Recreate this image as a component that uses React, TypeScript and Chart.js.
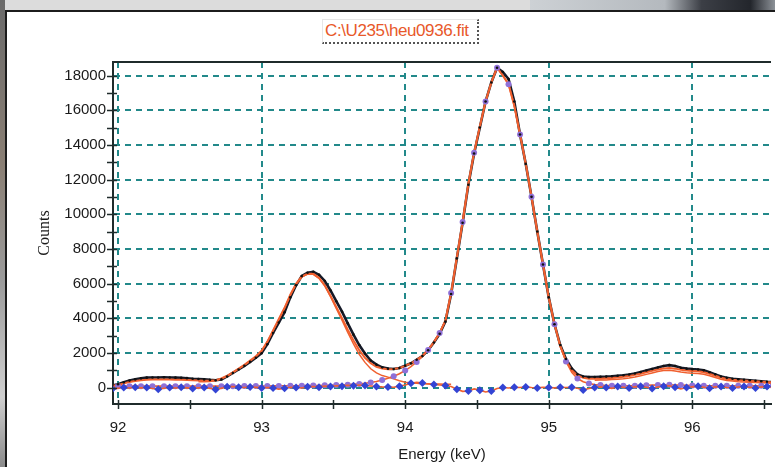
import React, { useEffect, useRef } from 'react';
import { Chart, registerables } from 'chart.js';

Chart.register(...registerables);

// ---- data ----
const titleText = 'C:\\U235\\heu0936.fit';
const xAxisTitle = 'Energy (keV)';
const yAxisTitle = 'Counts';

const xTickValues = [92, 93, 94, 95, 96];
const xMinorTickValues = [92, 92.5, 93, 93.5, 94, 94.5, 95, 95.5, 96, 96.5];
const yTickValues = [0, 2000, 4000, 6000, 8000, 10000, 12000, 14000, 16000, 18000];
const yMinorTickValues = [0, 1000, 2000, 3000, 4000, 5000, 6000, 7000, 8000, 9000, 10000, 11000, 12000, 13000, 14000, 15000, 16000, 17000, 18000];
const xRange = [91.965, 96.548];
const yRange = [-950, 18780];

const energyKeV = [
  91.96, 92.00, 92.04, 92.08, 92.12, 92.16, 92.20, 92.24, 92.28, 92.32,
  92.36, 92.40, 92.44, 92.48, 92.52, 92.56, 92.60, 92.64, 92.68, 92.72,
  92.76, 92.80, 92.84, 92.88, 92.92, 92.96, 93.00, 93.04, 93.08, 93.12,
  93.16, 93.20, 93.24, 93.28, 93.32, 93.36, 93.40, 93.44, 93.48, 93.52,
  93.56, 93.60, 93.64, 93.68, 93.72, 93.76, 93.80, 93.84, 93.88, 93.92,
  93.96, 94.00, 94.04, 94.08, 94.12, 94.16, 94.20, 94.24, 94.28, 94.32,
  94.36, 94.40, 94.44, 94.48, 94.52, 94.56, 94.60, 94.64, 94.68, 94.72,
  94.76, 94.80, 94.84, 94.88, 94.92, 94.96, 95.00, 95.04, 95.08, 95.12,
  95.16, 95.20, 95.24, 95.28, 95.32, 95.36, 95.40, 95.44, 95.48, 95.52,
  95.56, 95.60, 95.64, 95.68, 95.72, 95.76, 95.80, 95.84, 95.88, 95.92,
  95.96, 96.00, 96.04, 96.08, 96.12, 96.16, 96.20, 96.24, 96.28, 96.32,
  96.36, 96.40, 96.44, 96.48, 96.52, 96.56,
];

const measuredCounts = [
  120, 190, 300, 400, 470, 530, 570, 580, 580, 590,
  580, 570, 560, 540, 510, 490, 470, 440, 420, 470,
  640, 840, 1040, 1250, 1480, 1720, 1980, 2500, 3150, 3750,
  4350, 5200, 5900, 6430, 6620, 6680, 6500, 6150, 5600, 4980,
  4375, 3700, 3050, 2450, 1960, 1560, 1320, 1165, 1090, 1070,
  1130, 1260, 1400, 1600, 1820, 2150, 2600, 3100, 3800, 5400,
  7450, 9500, 11700, 13500, 15000, 16500, 17600, 18450, 18200, 17800,
  16500, 14600, 12900, 11000, 9000, 7100, 5200, 3650, 2450, 1650,
  1100, 760, 640, 600, 610, 620, 630, 650, 680, 710,
  750, 810, 890, 980, 1070, 1160, 1240, 1290, 1240, 1140,
  1090, 1060, 1040, 990, 880, 760, 640, 560, 510, 480,
  450, 420, 390, 360, 330, 310,
];

const fitCounts = [
  90, 150, 240, 320, 380, 420, 450, 460, 465, 470,
  465, 455, 445, 430, 415, 400, 390, 390, 420, 520,
  680, 880, 1090, 1310, 1550, 1800, 2120, 2650, 3300, 3950,
  4600, 5350, 5980, 6400, 6560, 6560, 6330, 5900, 5300, 4650,
  4000, 3340, 2720, 2160, 1720, 1400, 1200, 1100, 1060, 1070,
  1130, 1250, 1400, 1600, 1830, 2170, 2620, 3150, 3850, 5450,
  7500, 9550, 11750, 13550, 15050, 16500, 17600, 18450, 18000, 17500,
  16250, 14600, 12900, 11000, 9000, 7100, 5200, 3650, 2400, 1550,
  1000, 700, 560, 500, 500, 510, 530, 550, 580, 620,
  670, 730, 800, 880, 960, 1040, 1100, 1130, 1090, 1020,
  980, 960, 940, 880, 790, 680, 570, 490, 450, 420,
  400, 380, 360, 340, 320, 300,
];

const peak1Counts = [
  null, null, null, null, null, null, null, null, null, null,
  null, null, null, null, null, 330, 330, 350, 400, 500,
  660, 860, 1070, 1290, 1530, 1780, 2100, 2630, 3280, 3930,
  4580, 5330, 5960, 6380, 6540, 6530, 6300, 5860, 5240, 4560,
  3880, 3180, 2520, 1920, 1450, 1080, 840, 690, 600, 500,
  390, 310, 260, 240, 225, 215, 205, 200, 195, 190,
  null, null, null, null, null, null, null, null, null, null,
  null, null, null, null, null, null, null, null, null, null,
  null, null, null, null, null, null, null, null, null, null,
  null, null, null, null, null, null, null, null, null, null,
  null, null, null, null, null, null, null, null, null, null,
  null, null, null, null, null, null,
];

const peak2Counts = [
  80, 80, 80, 80, 80, 80, 80, 80, 80, 80,
  80, 80, 80, 80, 80, 80, 80, 80, 80, 80,
  80, 80, 85, 85, 85, 90, 90, 90, 95, 95,
  100, 100, 105, 110, 110, 115, 120, 125, 130, 140,
  150, 165, 185, 210, 245, 290, 350, 430, 530, 650,
  800, 980, 1200, 1480, 1800, 2160, 2620, 3150, 3850, 5450,
  7500, 9550, 11750, 13550, 15050, 16500, 17600, 18450, 18000, 17500,
  16250, 14600, 12900, 11000, 9000, 7100, 5200, 3650, 2400, 1500,
  880, 520, 330, 230, 170, 140, 120, 110, 100, 100,
  100, 110, 120, 130, 140, 150, 160, 160, 150, 140,
  130, 120, 110, 100, 100, 100, 100, 100, 100, 100,
  100, 100, 100, 100, 100, 100,
];

const peak3Counts = [
  null, null, null, null, null, null, null, null, null, null,
  null, null, null, null, null, null, null, null, null, null,
  null, null, null, null, null, null, null, null, null, null,
  null, null, null, null, null, null, null, null, null, null,
  null, null, null, null, null, null, null, null, null, null,
  null, null, null, null, null, null, null, null, null, null,
  null, null, null, null, null, null, null, null, null, null,
  null, null, null, null, null, null, null, null, null, null,
  null, null, null, null, 420, 430, 440, 460, 480, 510,
  550, 610, 680, 760, 840, 920, 980, 1000, 960, 890,
  850, 830, 810, 760, 680, 580, 480, 410, 370, 340,
  320, 300, 285, 270, 255, 240,
];

const residualCounts = [
  -80, -40, 0, -30, 20, -20, 0, -60, -100, -40,
  0, -30, 10, -20, -60, -20, 0, -40, -120, -40,
  40, 60, 20, 0, 30, 10, -20, 0, -20, -100,
  -40, 20, 0, -30, 40, 60, 20, 80, 60, 100,
  80, 130, 100, 150, 120, 90, 60, 40, 30, 20,
  80, 150, 250, 300, 260, 200, 180, 150, 120, 60,
  -100, -220, -200, -80, -150, -260, -200, -60, 0, -30,
  20, 0, 30, 0, -20, 20, 0, -20, 10, 0,
  20, -40, -140, -60, 0, 40, 0, -50, 60, 20,
  -30, 40, 80, 20, -60, 30, 80, 100, 20, -80,
  0, 40, 80, 20, -40, 40, 60, 0, -30, 30,
  60, 20, -20, 40, 60, 20,
];

// ---- styles ----
const ORANGE = '#f0602f';
const BLACK = '#161a28';
const PURPLE = '#8f70d8';
const BLUE = '#3344d4';
const GRID = '#22898a';
const AXIS = '#1f2b2b';
const TEXT = '#1a1a1a';

const toPoints = (ys: (number | null)[]) => energyKeV.map((x, i) => ({ x, y: ys[i] }));

const axisDecor = {
  id: 'axisDecor',
  afterDraw(chart: any) {
    const { ctx, chartArea, scales } = chart;
    const xs = scales.x;
    const ys = scales.y;
    ctx.save();
    ctx.strokeStyle = AXIS;
    ctx.lineWidth = 2;
    ctx.beginPath();
    ctx.moveTo(chartArea.left - 1, chartArea.top);
    ctx.lineTo(chartArea.right, chartArea.top);
    ctx.stroke();
    ctx.lineWidth = 1.5;
    for (const v of yMinorTickValues) {
      const py = Math.round(ys.getPixelForValue(v)) + 0.5;
      ctx.beginPath();
      ctx.moveTo(chartArea.left - 6, py);
      ctx.lineTo(chartArea.left + 4, py);
      ctx.stroke();
    }
    for (const v of xMinorTickValues) {
      const px = Math.round(xs.getPixelForValue(v)) + 0.5;
      ctx.beginPath();
      ctx.moveTo(px, chartArea.bottom - 4);
      ctx.lineTo(px, chartArea.bottom + 5);
      ctx.stroke();
    }
    ctx.restore();
  },
};

export default function App() {
  const canvasRef = useRef<HTMLCanvasElement | null>(null);

  useEffect(() => {
    if (!canvasRef.current) return;
    const chart = new Chart(canvasRef.current, {
      type: 'line',
      data: {
        datasets: [
          {
            label: 'residual',
            data: toPoints(residualCounts),
            borderColor: ORANGE,
            borderWidth: 1.6,
            pointStyle: 'rectRot',
            pointRadius: (c: any) => (c.dataIndex % 2 === 0 ? 4 : 0),
            pointBackgroundColor: BLUE,
            pointBorderWidth: 0,
            order: 0,
          },
          {
            label: 'measured points',
            data: toPoints(measuredCounts),
            showLine: false,
            pointRadius: 1.3,
            pointBackgroundColor: '#111',
            pointBorderWidth: 0,
            order: 1,
          },
          {
            label: 'peak 2',
            data: toPoints(peak2Counts),
            borderColor: ORANGE,
            borderWidth: 1.6,
            pointRadius: (c: any) => (c.dataIndex % 2 === 1 ? 3 : 0),
            pointBackgroundColor: PURPLE,
            pointBorderWidth: 0,
            order: 2,
          },
          {
            label: 'fit',
            data: toPoints(fitCounts),
            borderColor: ORANGE,
            borderWidth: 2,
            pointRadius: 0,
            order: 3,
          },
          {
            label: 'peak 1',
            data: toPoints(peak1Counts),
            borderColor: ORANGE,
            borderWidth: 1.5,
            pointRadius: 0,
            order: 4,
          },
          {
            label: 'peak 3',
            data: toPoints(peak3Counts),
            borderColor: ORANGE,
            borderWidth: 1.5,
            pointRadius: 0,
            order: 4,
          },
          {
            label: 'measured',
            data: toPoints(measuredCounts),
            borderColor: BLACK,
            borderWidth: 2.6,
            pointRadius: 0,
            order: 5,
          },
        ],
      },
      options: {
        animation: false,
        responsive: false,
        maintainAspectRatio: false,
        layout: { padding: { top: 62, right: 1, left: 0, bottom: 0 } },
        plugins: {
          legend: { display: false },
          tooltip: { enabled: false },
          title: { display: false },
        },
        elements: { line: { tension: 0 } },
        scales: {
          x: {
            type: 'linear',
            min: xRange[0],
            max: xRange[1],
            afterBuildTicks: (s: any) => {
              s.ticks = xTickValues.map((v) => ({ value: v }));
            },
            afterFit: (s: any) => {
              s.height = 63;
            },
            grid: { color: GRID, lineWidth: 2, drawTicks: false },
            border: { display: true, color: AXIS, width: 2, dash: [6, 5] },
            ticks: {
              color: TEXT,
              font: { family: 'Liberation Sans, Arial, sans-serif', size: 15 },
              padding: 15,
              maxRotation: 0,
              callback: (v: any) => String(v),
            },
            title: {
              display: true,
              text: xAxisTitle,
              color: TEXT,
              font: { family: 'Liberation Sans, Arial, sans-serif', size: 15 },
              padding: { top: 0, bottom: 3 },
            },
          },
          y: {
            type: 'linear',
            min: yRange[0],
            max: yRange[1],
            afterBuildTicks: (s: any) => {
              s.ticks = yTickValues.map((v) => ({ value: v }));
            },
            afterFit: (s: any) => {
              s.width = 113;
            },
            grid: { color: GRID, lineWidth: 2, drawTicks: false },
            border: { display: true, color: AXIS, width: 2, dash: [6, 5] },
            ticks: {
              color: TEXT,
              font: { family: 'Liberation Sans, Arial, sans-serif', size: 15 },
              padding: 7,
              callback: (v: any) => String(v),
            },
            title: {
              display: true,
              text: yAxisTitle,
              color: TEXT,
              font: { family: 'Liberation Serif, Times New Roman, serif', size: 16 },
              padding: { top: 35, bottom: 0 },
            },
          },
        },
      },
      plugins: [axisDecor],
    } as any);
    return () => chart.destroy();
  }, []);

  return (
    <div style={{ position: 'absolute', left: 0, top: 0, width: 775, height: 467, background: '#ffffff', overflow: 'hidden' }}>
      <canvas ref={canvasRef} width={775} height={467} style={{ position: 'absolute', left: 0, top: 0 }} />
      <div style={{ position: 'absolute', left: 0, top: 0, width: 775, height: 10, background: '#dcdcdc' }} />
      <div
        style={{
          position: 'absolute', left: 530, top: 0, width: 245, height: 10,
          background: 'linear-gradient(90deg, #cdd1d5 0%, #b4b9be 55%, #3c3f46 70%, #23262c 90%, #8d9298 100%)',
        }}
      />
      <div style={{ position: 'absolute', left: 6, top: 10, width: 769, height: 2, background: '#1c1c1c' }} />
      <div
        style={{
          position: 'absolute', left: 0, top: 0, width: 5, height: 467,
          background: 'linear-gradient(180deg, #6a6a6a 0%, #8a7f74 35%, #9b9b9b 60%, #cfcfcf 85%, #8a8a8a 100%)',
        }}
      />
      <div style={{ position: 'absolute', left: 5, top: 10, width: 2, height: 457, background: '#1c1c1c' }} />
      <div
        style={{
          position: 'absolute', left: 322, top: 19, width: 157, height: 25,
          borderTop: '1px solid #e6e6e6', borderLeft: '1px solid #e6e6e6',
          borderRight: '2px dotted #555', borderBottom: '2px dotted #555',
          background: '#ffffff', boxSizing: 'border-box',
          font: '17px "Liberation Sans", Arial, sans-serif', color: '#e8582a',
          letterSpacing: '-0.4px', lineHeight: '22px', paddingLeft: 2, whiteSpace: 'nowrap',
        }}
      >
        {titleText}
      </div>
    </div>
  );
}
